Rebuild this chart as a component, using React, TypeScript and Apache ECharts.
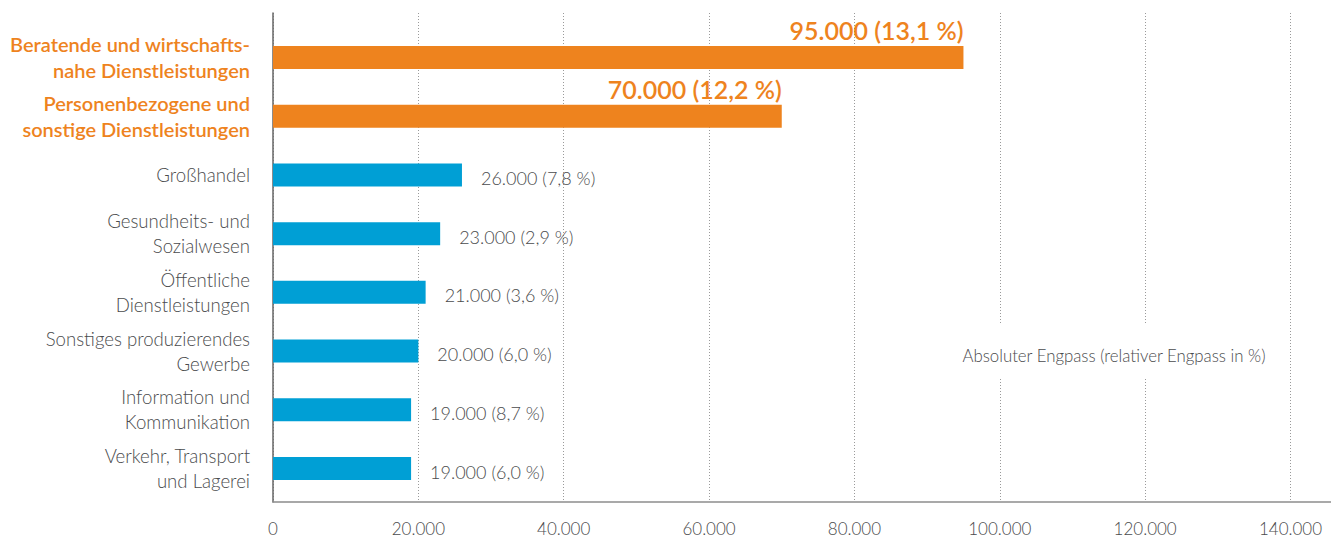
import React, { useEffect, useRef } from "react";
import * as echarts from "echarts";

const categories = [
  "Beratende und wirtschafts-\nnahe Dienstleistungen",
  "Personenbezogene und\nsonstige Dienstleistungen",
  "Großhandel",
  "Gesundheits- und\nSozialwesen",
  "Öffentliche\nDienstleistungen",
  "Sonstiges produzierendes\nGewerbe",
  "Information und\nKommunikation",
  "Verkehr, Transport\nund Lagerei",
];
const values = [95000, 70000, 26000, 23000, 21000, 20000, 19000, 19000];
const valueLabels = [
  "95.000 (13,1 %)",
  "70.000 (12,2 %)",
  "26.000 (7,8 %)",
  "23.000 (2,9 %)",
  "21.000 (3,6 %)",
  "20.000 (6,0 %)",
  "19.000 (8,7 %)",
  "19.000 (6,0 %)",
];
const highlighted = [true, true, false, false, false, false, false, false];
const xTicks = { min: 0, max: 140000, interval: 20000 };
const noteText = "Absoluter Engpass (relativer Engpass in %)";

const ORANGE = "#EE831E";
const BLUE = "#009FD5";
const GRAY = "#4a4b4d";
const FONT = "Lato, 'Noto Sans', sans-serif";

const fmt = (v: number) => String(v).replace(/\B(?=(\d{3})+(?!\d))/g, ".");

export default function App() {
  const ref = useRef<HTMLDivElement>(null);
  useEffect(() => {
    if (!ref.current) return;
    const chart = echarts.init(ref.current, null, { renderer: "svg" });
    const data = values.map((v, i) => ({
      value: v,
      itemStyle: { color: highlighted[i] ? ORANGE : BLUE },
      label: highlighted[i]
        ? {
            show: true,
            position: ["100%", -3],
            align: "right",
            verticalAlign: "bottom",
            color: ORANGE,
            fontSize: 25,
            fontWeight: 600,
            fontFamily: FONT,
            formatter: () => valueLabels[i],
          }
        : {
            show: true,
            position: "right",
            distance: 19,
            offset: [0, 3],
            color: GRAY,
            fontSize: 18,
            fontWeight: 300,
            fontFamily: FONT,
            formatter: () => valueLabels[i],
          },
    }));
    chart.setOption({
      animation: false,
      backgroundColor: "#fff",
      grid: [
        { left: 273, right: 40.5, top: 13, bottom: 38 },
        { left: 273, right: 40.5, top: 28.1, bottom: 42.1 },
        { left: 273, right: 0, top: 13, bottom: 38 },
      ],
      xAxis: [
        {
          type: "value",
          gridIndex: 0,
          min: xTicks.min,
          max: xTicks.max,
          interval: xTicks.interval,
          axisLine: { show: false },
          axisTick: { show: false },
          splitLine: { show: true, lineStyle: { type: [1, 2], color: "#9a9a9a", width: 1 } },
          axisLabel: {
            color: GRAY,
            fontSize: 17,
            fontWeight: 300,
            fontFamily: FONT,
            margin: 18,
            formatter: (v: number) => fmt(v),
          },
        },
        {
          type: "value",
          gridIndex: 1,
          min: xTicks.min,
          max: xTicks.max,
          show: false,
        },
        {
          type: "value",
          gridIndex: 2,
          min: 0,
          max: 1,
          axisLine: { show: true, lineStyle: { color: "#8c8c8c", width: 1.5 } },
          axisTick: { show: false },
          axisLabel: { show: false },
          splitLine: { show: false },
        },
      ],
      yAxis: [
        {
          type: "value",
          gridIndex: 0,
          min: 0,
          max: 1,
          axisLine: { show: true, lineStyle: { color: "#666", width: 1.5 } },
          axisTick: { show: false },
          axisLabel: { show: false },
          splitLine: { show: false },
        },
        {
          type: "category",
          gridIndex: 1,
          inverse: true,
          data: categories,
          axisLine: { show: false },
          axisTick: { show: false },
          axisLabel: {
            margin: 23,
            formatter: (v: string, idx: number) =>
              v
                .split("\n")
                .map((l) => (highlighted[idx] ? `{o|${l}}` : `{g|${l}}`))
                .join("\n"),
            rich: {
              o: {
                color: ORANGE,
                fontSize: 20,
                fontWeight: 600,
                fontFamily: FONT,
                lineHeight: 26,
                align: "right",
              },
              g: {
                color: GRAY,
                fontSize: 18.6,
                fontWeight: 300,
                fontFamily: FONT,
                lineHeight: 25,
                align: "right",
              },
            },
          },
        },
        {
          type: "value",
          gridIndex: 2,
          show: false,
          min: 0,
          max: 1,
        },
      ],
      graphic: [
        {
          type: "rect",
          z: 100,
          shape: { x: 955, y: 324, width: 318, height: 55 },
          style: { fill: "#fff" },
        },
        {
          type: "text",
          z: 101,
          x: 1114,
          y: 355,
          style: {
            text: noteText,
            fill: GRAY,
            fontSize: 16.8,
            fontWeight: 300,
            fontFamily: FONT,
            align: "center",
            verticalAlign: "middle",
          },
        },
      ],
      series: [
        {
          type: "bar",
          xAxisIndex: 1,
          yAxisIndex: 1,
          barWidth: 23,
          data,
          z: 3,
        },
      ],
    });
    return () => chart.dispose();
  }, []);
  return (
    <div
      ref={ref}
      style={{ position: "fixed", left: 0, top: 0, width: 1331, height: 540, background: "#fff" }}
    />
  );
}
